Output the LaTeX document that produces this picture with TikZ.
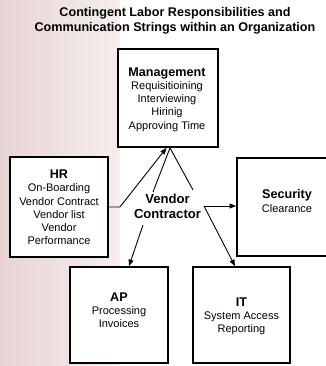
\documentclass[tikz,border=0pt]{standalone}
\usepackage{fontspec}
\setmainfont{Liberation Sans}
\usetikzlibrary{arrows.meta,calc}
\definecolor{pinkL}{RGB}{232,212,212}
\definecolor{pinkR}{RGB}{246,238,238}
\newcommand\hdfont{\fontsize{12.6bp}{15bp}\selectfont\bfseries}
\newcommand\bdfont{\fontsize{11bp}{13.2bp}\selectfont}
\tikzset{
  box/.style={draw=black, line width=1.8bp, fill=white, inner sep=0pt},
  txt/.style={align=center, inner sep=0pt, font=\bdfont},
  conn/.style={line width=0.9bp, black},
  arr/.style={conn, -{Triangle[length=6.5bp,width=5bp]}}
}
\begin{document}
\begin{tikzpicture}[x=1bp,y=-1bp]
\useasboundingbox (0,0) rectangle (326,366);
\fill[left color=pinkL, right color=pinkR] (0,0) rectangle (120,366);
% title
\node[txt, font=\hdfont, align=center] (title) at (175,21) {Contingent Labor Responsibilities and\\Communication Strings within an Organization};
% boxes
\node[box, minimum width=100bp, minimum height=98bp] (mgmt) at (168,98) {};
\node[box, minimum width=98bp, minimum height=100bp] (hr) at (59,207) {};
\node[box, minimum width=98bp, minimum height=98bp] (sec) at (286,207) {};
\node[box, minimum width=98bp, minimum height=96bp] (ap) at (119,315) {};
\node[box, minimum width=97bp, minimum height=96bp] (it) at (241.5,315) {};
% texts
\node[txt] (mgmtT) at (167,99.5) {{\hdfont Management}\\Requisitioining\\Interviewing\\Hirinig\\Approving Time};
\node[txt] (hrT) at (59,207.5) {{\hdfont HR}\\On-Boarding\\Vendor Contract\\Vendor list\\Vendor\\Performance};
\node[txt] (secT) at (287,201) {{\hdfont Security}\\Clearance};
\node[txt] (apT) at (119,310.5) {{\hdfont AP}\\Processing\\Invoices};
\node[txt] (itT) at (241.5,316.5) {{\hdfont IT}\\System Access\\Reporting};
\node[txt, font=\fontsize{13.1bp}{15bp}\selectfont\bfseries] (vc) at (167.5,206) {Vendor\\Contractor};
% connector points
\coordinate (hrOut) at ($(hr.east)+(11,0)$);
\coordinate (vTL) at (153,192);
\coordinate (vTR) at (193,190);
\coordinate (vR) at (204,206);
\coordinate (vBL) at (143,225);
% connectors
\draw[arr] (hr.east) -- (hrOut) -- ($(mgmt.south)+(-1.5,0)$);
\draw[conn] (vTL) -- ($(mgmt.south)+(2,0)$) -- (vTR);
\draw[arr] (vR) -- (sec.west |- vR);
\draw[arr] (vR) -- ($(it.north)+(-6.5,0)$);
\draw[arr] (vBL) -- ($(ap.north)+(10,0)$);
\end{tikzpicture}
\end{document}
